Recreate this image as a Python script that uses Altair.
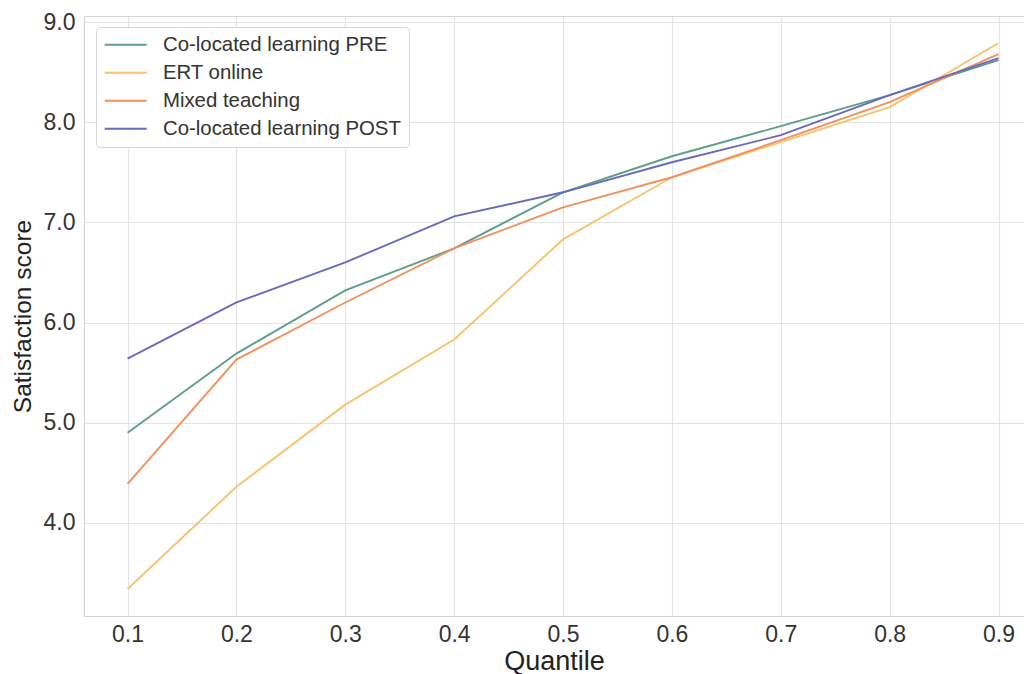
import altair as alt
import pandas as pd

quantiles = [0.1, 0.2, 0.3, 0.4, 0.5, 0.6, 0.7, 0.8, 0.9]
series_names = ["Co-located learning PRE", "ERT online", "Mixed teaching", "Co-located learning POST"]
pre_values = [4.90, 5.69, 6.32, 6.74, 7.30, 7.66, 7.96, 8.27, 8.62]
ert_values = [3.34, 4.36, 5.18, 5.83, 6.83, 7.45, 7.80, 8.15, 8.79]
mixed_values = [4.39, 5.63, 6.20, 6.74, 7.15, 7.45, 7.82, 8.20, 8.68]
post_values = [5.64, 6.20, 6.60, 7.06, 7.30, 7.60, 7.87, 8.27, 8.64]
colors = ["#5f9e8a", "#f7c36f", "#f2915f", "#6a6abd"]
y_ticks = [4.0, 5.0, 6.0, 7.0, 8.0, 9.0]

rows = []
for name, vals in zip(series_names, [pre_values, ert_values, mixed_values, post_values]):
    for q, v in zip(quantiles, vals):
        rows.append({"Quantile": q, "Score": v, "Series": name})
df = pd.DataFrame(rows)

FONT = "Liberation Sans"
FRAME = "#d4d4d4"

x_scale = alt.Scale(domain=[0.06, 0.9234], nice=False, zero=False)
y_scale = alt.Scale(domain=[3.07, 9.06], nice=False, zero=False)

lines = (
    alt.Chart(df)
    .mark_line(strokeWidth=1.9)
    .encode(
        x=alt.X(
            "Quantile:Q", scale=x_scale,
            axis=alt.Axis(
                values=quantiles, format=".1f", title="Quantile",
                labelFontSize=23, titleFontSize=27, labelPadding=7, titlePadding=2,
                domain=True, domainColor=FRAME, domainWidth=1.2,
            ),
        ),
        y=alt.Y(
            "Score:Q", scale=y_scale,
            axis=alt.Axis(
                values=y_ticks, format=".1f", title="Satisfaction score",
                labelFontSize=23, titleFontSize=24.5, labelPadding=9, titlePadding=8,
                domain=True, domainColor=FRAME, domainWidth=1.2,
            ),
        ),
        color=alt.Color(
            "Series:N",
            sort=series_names,
            scale=alt.Scale(domain=series_names, range=colors),
            legend=alt.Legend(
                title=None, orient="none", legendX=12, legendY=11,
                symbolType="M-4.2,0H4.2", symbolSize=100, symbolStrokeWidth=2,
                symbolOffset=12, labelOffset=27, labelLimit=400,
                labelFontSize=20.4, labelColor="#333333", labelFont=FONT,
                rowPadding=7, padding=7.5, cornerRadius=4,
                strokeColor="#d6d6d6", fillColor="#ffffff",
            ),
        ),
        order=alt.Order("Quantile:Q"),
    )
)

top_frame = (
    alt.Chart(df)
    .mark_line(opacity=0)
    .encode(
        x=alt.X(
            "Quantile:Q", scale=x_scale,
            axis=alt.Axis(
                orient="top", title=None, labels=False, grid=False,
                domain=True, domainColor=FRAME, domainWidth=1.2,
            ),
        ),
        y=alt.Y("Score:Q", scale=y_scale),
    )
)

chart = (
    alt.layer(lines, top_frame)
    .resolve_axis(x="independent")
    .properties(
        width=940, height=600,
        autosize=alt.AutoSizeParams(type="none"),
        padding={"left": 76, "top": 8, "right": 0, "bottom": 60},
    )
    .configure(font=FONT)
    .configure_axis(
        grid=True, gridColor="#e4e4e4", gridWidth=1.2,
        ticks=False, tickSize=0,
        labelColor="#333333", titleColor="#222222",
        labelFont=FONT, titleFont=FONT, titleFontWeight="normal",
    )
    .configure_view(stroke=None)
)

chart.save("out.html", embed_options={"renderer": "svg", "actions": False})
